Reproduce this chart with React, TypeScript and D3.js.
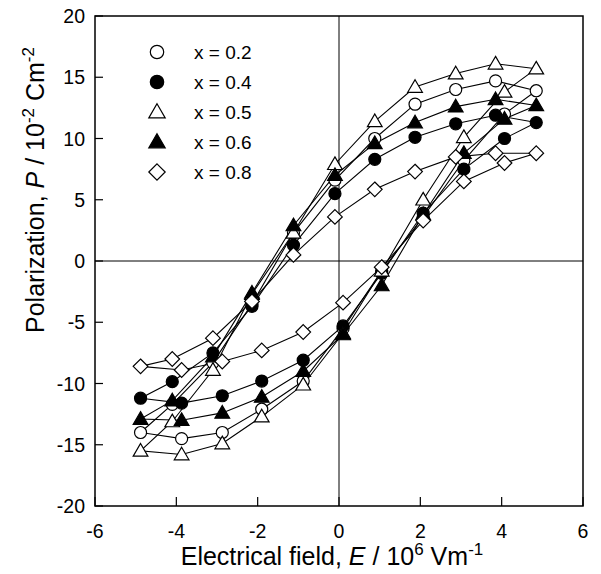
import React from "react";
import * as d3 from "d3";

const E_UP = [4.85, 3.85, 2.87, 1.87, 0.88, -0.1, -1.12, -2.14, -3.1, -4.1];
const E_LO = [-4.88, -3.87, -2.87, -1.9, -0.88, 0.1, 1.05, 2.07, 3.07, 4.07];

const labels = ["x = 0.2", "x = 0.4", "x = 0.5", "x = 0.6", "x = 0.8"];
const shapes = ["circle", "circle", "triangle", "triangle", "diamond"];
const filled = [false, true, false, true, false];

const P02_UP = [13.9, 14.7, 14.0, 12.8, 10.0, 6.6, 2.3, -3.5, -8.3, -11.7];
const P02_LO = [-14.0, -14.5, -14.0, -12.1, -9.8, -5.5, -0.8, 3.6, 8.2, 12.0];
const P04_UP = [11.3, 11.9, 11.2, 10.1, 8.3, 5.5, 1.3, -3.7, -7.5, -9.85];
const P04_LO = [-11.2, -11.6, -11.0, -9.8, -8.1, -5.3, -1.0, 3.9, 7.5, 10.0];
const P05_UP = [15.7, 16.1, 15.3, 14.2, 11.4, 7.9, 2.3, -2.7, -8.9, -13.1];
const P05_LO = [-15.5, -15.8, -14.9, -12.7, -10.1, -5.9, -0.8, 5.0, 10.1, 13.8];
const P06_UP = [12.7, 13.2, 12.6, 11.3, 9.6, 7.0, 2.9, -2.6, -7.8, -11.4];
const P06_LO = [-12.9, -13.0, -12.4, -11.1, -9.0, -6.0, -2.0, 3.8, 8.8, 11.6];
const P08_UP = [8.8, 8.8, 8.5, 7.3, 5.85, 3.6, 0.5, -3.3, -6.3, -8.0];
const P08_LO = [-8.6, -8.9, -8.2, -7.3, -5.8, -3.4, -0.5, 3.3, 6.5, 8.0];

const seriesUp = [P02_UP, P04_UP, P05_UP, P06_UP, P08_UP];
const seriesLo = [P02_LO, P04_LO, P05_LO, P06_LO, P08_LO];

const xTicks = [-6, -4, -2, 0, 2, 4, 6];
const yTicks = [-20, -15, -10, -5, 0, 5, 10, 15, 20];

const W = 601, H = 574;
const L = 95, R = 583, T = 16, B = 506;
const FONT = "'Liberation Sans', Arial, Helvetica, sans-serif";

const x = d3.scaleLinear().domain([-6, 6]).range([L, R]);
const y = d3.scaleLinear().domain([-20, 20]).range([B, T]);

function Marker({ shape, fill, cx, cy, size }: { shape: string; fill: boolean; cx: number; cy: number; size: number }) {
  const f = fill ? "#000" : "#fff";
  if (shape === "circle") {
    return <circle cx={cx} cy={cy} r={size * 0.86} fill={f} stroke="#000" strokeWidth={1.2} />;
  }
  if (shape === "triangle") {
    const s = size;
    const p = `M${cx},${cy - s * 1.05}L${cx + s * 1.05},${cy + s * 0.75}L${cx - s * 1.05},${cy + s * 0.75}Z`;
    return <path d={p} fill={f} stroke="#000" strokeWidth={1.2} />;
  }
  const s = size * 1.05;
  const p = `M${cx},${cy - s}L${cx + s},${cy}L${cx},${cy + s}L${cx - s},${cy}Z`;
  return <path d={p} fill={f} stroke="#000" strokeWidth={1.2} />;
}

export default function App() {
  const line = d3
    .line<[number, number]>()
    .x((d) => x(d[0]))
    .y((d) => y(d[1]));

  const loops = seriesUp.map((up, i) => {
    const pts: [number, number][] = [];
    up.forEach((p, j) => pts.push([E_UP[j], p]));
    seriesLo[i].forEach((p, j) => pts.push([E_LO[j], p]));
    return pts;
  });

  return (
    <svg width={W} height={H} style={{ position: "absolute", left: 0, top: 0, background: "#fff" }} fontFamily={FONT}>
      <rect x={0} y={0} width={W} height={H} fill="#fff" />
      <line x1={x(0)} x2={x(0)} y1={T} y2={B} stroke="#000" strokeWidth={1} />
      <line x1={L} x2={R} y1={y(0)} y2={y(0)} stroke="#000" strokeWidth={1} />
      {xTicks.map((t) => (
        <g key={"xt" + t}>
          <line x1={x(t)} x2={x(t)} y1={B} y2={B - 9} stroke="#000" strokeWidth={1.2} />
          <text x={x(t)} y={538} textAnchor="middle" fontSize={19.5}>
            {t}
          </text>
        </g>
      ))}
      {yTicks.map((t) => (
        <g key={"yt" + t}>
          <line x1={L} x2={L + 8} y1={y(t)} y2={y(t)} stroke="#000" strokeWidth={1.2} />
          <text x={85} y={y(t) + 7} textAnchor="end" fontSize={19.5}>
            {t}
          </text>
        </g>
      ))}
      {loops.map((pts, i) => (
        <path key={"l" + i} d={line(pts.concat([pts[0]])) || ""} fill="none" stroke="#000" strokeWidth={1.1} />
      ))}
      {loops.map((pts, i) => (
        <g key={"m" + i}>
          {pts.map((d, j) => (
            <Marker key={j} shape={shapes[i]} fill={filled[i]} cx={x(d[0])} cy={y(d[1])} size={7} />
          ))}
        </g>
      ))}
      <rect x={L} y={T} width={R - L} height={B - T} fill="none" stroke="#000" strokeWidth={1.5} />
      {labels.map((lab, i) => {
        const ly = 52 + i * 30;
        return (
          <g key={"lg" + i}>
            <Marker shape={shapes[i]} fill={filled[i]} cx={157} cy={ly} size={7.8} />
            <text x={194} y={ly + 7} fontSize={19}>
              {lab}
            </text>
          </g>
        );
      })}
      <text x={332} y={565} textAnchor="middle" fontSize={25}>
        Electrical field, <tspan fontStyle="italic">E</tspan> / 10
        <tspan dy={-10} fontSize={17}>6</tspan>
        <tspan dy={10}> Vm</tspan>
        <tspan dy={-10} fontSize={17}>-1</tspan>
      </text>
      <text transform={`translate(44,${190}) rotate(-90)`} textAnchor="middle" fontSize={25}>
        Polarization, <tspan fontStyle="italic">P</tspan> / 10
        <tspan dy={-10} fontSize={17}>-2</tspan>
        <tspan dy={10}> Cm</tspan>
        <tspan dy={-10} fontSize={17}>-2</tspan>
      </text>
    </svg>
  );
}
